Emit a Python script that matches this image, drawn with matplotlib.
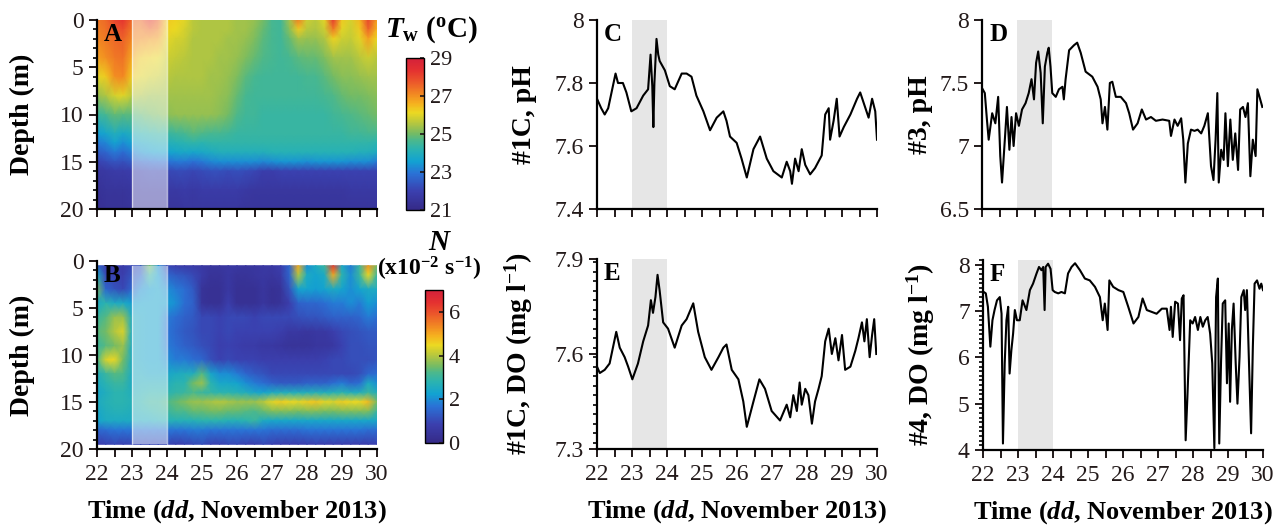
import numpy as np
import matplotlib.pyplot as plt
from matplotlib.colors import LinearSegmentedColormap
from matplotlib.ticker import MultipleLocator

plt.rcParams['font.family'] = ['Liberation Serif', 'DejaVu Serif']
plt.rcParams['mathtext.fontset'] = 'custom'
plt.rcParams['mathtext.rm'] = 'Liberation Serif:bold'
plt.rcParams['mathtext.it'] = 'Liberation Serif:italic:bold'
plt.rcParams['mathtext.bf'] = 'Liberation Serif:bold'

# ---- profile grids (time every 6 h) ----
days = np.arange(22, 30.001, 0.25)

# water temperature (deg C), rows = depth levels
tw_depth = [0, 1, 2, 4, 6, 8, 10, 12, 13, 14, 15, 16, 18, 20]
tw = np.array([
    [27.3, 27.5, 28.0, 28.3, 27.5, 27.5, 28.2, 27.6, 26.3, 26.2, 26.0, 25.6, 25.5, 25.5, 25.5, 25.5, 25.4, 25.4, 25.3, 25.0, 24.6, 24.5, 25.4, 27.2, 25.8, 25.6, 26.0, 28.2, 26.3, 25.9, 26.5, 28.0, 26.8],
    [27.2, 27.4, 27.8, 27.9, 27.3, 27.2, 27.5, 27.2, 26.2, 26.1, 25.9, 25.6, 25.5, 25.5, 25.5, 25.5, 25.4, 25.4, 25.2, 24.9, 24.6, 24.5, 25.2, 26.3, 25.6, 25.5, 25.8, 27.3, 26.0, 25.8, 26.3, 27.6, 26.5],
    [27.1, 27.3, 27.5, 27.6, 27.1, 27.0, 26.9, 26.8, 26.0, 25.9, 25.8, 25.5, 25.5, 25.5, 25.5, 25.4, 25.4, 25.3, 25.1, 24.8, 24.6, 24.5, 24.9, 25.4, 25.3, 25.3, 25.5, 26.2, 25.8, 25.7, 26.0, 26.8, 26.1],
    [26.8, 27.0, 27.3, 27.4, 26.7, 26.3, 26.2, 26.1, 25.8, 25.7, 25.6, 25.5, 25.5, 25.5, 25.4, 25.4, 25.3, 25.1, 24.9, 24.7, 24.6, 24.5, 24.6, 24.8, 24.9, 24.9, 25.1, 25.4, 25.4, 25.4, 25.6, 25.8, 25.6],
    [26.0, 26.3, 27.0, 27.1, 26.3, 26.0, 25.9, 25.8, 25.6, 25.5, 25.5, 25.5, 25.5, 25.4, 25.4, 25.3, 25.1, 24.8, 24.6, 24.5, 24.5, 24.5, 24.5, 24.5, 24.6, 24.6, 24.8, 25.0, 25.2, 25.2, 25.3, 25.4, 25.4],
    [25.3, 25.5, 25.9, 26.0, 25.6, 25.5, 25.4, 25.4, 25.4, 25.4, 25.4, 25.4, 25.4, 25.4, 25.3, 25.2, 24.9, 24.6, 24.5, 24.5, 24.5, 24.5, 24.5, 24.5, 24.5, 24.5, 24.6, 24.7, 24.9, 25.0, 25.0, 25.1, 25.2],
    [24.4, 24.6, 24.9, 24.8, 24.8, 24.9, 25.0, 25.1, 25.2, 25.3, 25.3, 25.3, 25.3, 25.3, 25.2, 25.0, 24.7, 24.5, 24.5, 24.4, 24.4, 24.4, 24.4, 24.4, 24.4, 24.4, 24.4, 24.5, 24.6, 24.7, 24.8, 24.9, 25.0],
    [23.5, 23.7, 24.0, 23.8, 24.0, 24.2, 24.3, 24.4, 24.4, 24.5, 24.6, 24.8, 24.7, 24.6, 24.6, 24.5, 24.4, 24.4, 24.4, 24.4, 24.4, 24.4, 24.4, 24.4, 24.4, 24.4, 24.4, 24.4, 24.4, 24.5, 24.5, 24.6, 24.6],
    [23.0, 23.2, 23.6, 23.3, 23.6, 23.8, 23.9, 24.0, 24.0, 24.1, 24.2, 24.3, 24.2, 24.3, 24.3, 24.3, 24.3, 24.3, 24.3, 24.3, 24.3, 24.3, 24.3, 24.3, 24.3, 24.3, 24.3, 24.3, 24.3, 24.3, 24.3, 24.3, 24.2],
    [22.5, 22.7, 23.0, 22.8, 23.1, 23.4, 23.5, 23.6, 23.6, 23.7, 23.8, 23.7, 23.8, 23.9, 24.0, 24.0, 24.0, 24.0, 24.0, 24.0, 24.1, 24.1, 24.1, 24.1, 24.1, 24.1, 24.1, 24.1, 24.1, 24.1, 24.0, 24.0, 23.9],
    [22.0, 22.2, 22.4, 22.3, 22.5, 22.7, 22.8, 22.9, 22.9, 23.0, 23.0, 22.9, 23.0, 23.2, 23.3, 23.3, 23.3, 23.3, 23.3, 23.2, 23.3, 23.4, 23.4, 23.4, 23.3, 23.4, 23.4, 23.4, 23.4, 23.3, 23.3, 23.3, 23.0],
    [21.6, 21.7, 21.8, 21.8, 21.9, 22.0, 22.1, 22.1, 22.1, 22.2, 22.2, 22.1, 22.2, 22.3, 22.3, 22.2, 22.3, 22.2, 22.1, 21.9, 21.9, 22.0, 22.0, 22.0, 22.0, 22.0, 22.0, 22.0, 22.0, 22.0, 22.0, 22.0, 22.0],
    [21.4, 21.5, 21.5, 21.5, 21.6, 21.7, 21.7, 21.7, 21.7, 21.7, 21.8, 21.7, 21.8, 21.8, 21.8, 21.8, 21.8, 21.7, 21.6, 21.6, 21.6, 21.6, 21.6, 21.6, 21.6, 21.6, 21.6, 21.6, 21.6, 21.7, 21.7, 21.7, 21.7],
    [21.3, 21.4, 21.4, 21.4, 21.5, 21.5, 21.5, 21.5, 21.5, 21.5, 21.6, 21.6, 21.6, 21.6, 21.6, 21.6, 21.6, 21.5, 21.5, 21.5, 21.5, 21.5, 21.5, 21.5, 21.5, 21.5, 21.5, 21.5, 21.5, 21.5, 21.5, 21.5, 21.5],
])

# buoyancy frequency N (x1e-2 s-1)
n_depth = [0.5, 1.5, 3, 4.5, 6, 7.5, 9, 10.5, 12, 13, 14, 15, 16, 17, 18, 19.5]
nfreq = np.array([
    [1.5, 0.8, 0.8, 0.7, 1.0, 1.2, 3.5, 2.0, 1.0, 0.8, 0.7, 0.7, 0.6, 0.5, 0.5, 0.6, 0.6, 0.5, 0.5, 0.6, 0.6, 0.8, 1.5, 5.0, 2.0, 2.5, 3.0, 6.3, 2.5, 1.8, 3.0, 5.2, 3.5],
    [2.5, 1.0, 0.9, 0.8, 1.2, 1.5, 3.0, 2.2, 1.5, 1.3, 1.2, 1.0, 0.7, 0.4, 0.4, 0.6, 0.4, 0.4, 0.5, 0.6, 0.5, 0.7, 1.5, 4.0, 2.5, 2.3, 2.5, 5.0, 2.8, 2.0, 3.0, 4.5, 3.0],
    [3.5, 1.5, 1.2, 1.0, 1.5, 2.0, 2.2, 2.3, 2.0, 1.8, 1.6, 1.3, 0.4, 0.3, 0.3, 0.6, 0.3, 0.3, 0.3, 0.5, 0.3, 0.4, 1.2, 2.3, 2.3, 2.2, 2.3, 2.5, 2.3, 2.0, 2.3, 2.5, 2.5],
    [2.5, 2.8, 2.5, 2.5, 2.2, 2.3, 2.3, 2.3, 2.2, 2.0, 1.6, 1.4, 0.4, 0.3, 0.3, 0.8, 0.3, 0.3, 0.3, 0.5, 0.3, 0.4, 0.8, 1.4, 1.5, 1.5, 1.6, 1.8, 1.8, 2.0, 1.8, 2.2, 2.0],
    [3.0, 3.3, 3.8, 3.8, 2.5, 2.4, 2.3, 2.3, 1.8, 1.6, 1.4, 1.3, 1.0, 1.0, 0.9, 1.0, 1.0, 1.0, 0.9, 1.0, 1.0, 1.0, 1.0, 1.1, 1.2, 1.2, 1.3, 1.4, 1.4, 1.4, 1.5, 1.8, 1.6],
    [3.3, 3.5, 4.0, 4.3, 2.5, 2.4, 2.3, 2.3, 1.7, 1.5, 1.3, 1.2, 1.0, 1.0, 0.9, 1.0, 0.9, 0.9, 0.9, 0.9, 0.9, 0.8, 0.6, 0.6, 0.5, 0.6, 0.6, 0.8, 1.0, 1.1, 1.2, 1.3, 1.3],
    [3.0, 3.3, 3.5, 3.8, 2.5, 2.4, 2.3, 2.3, 1.8, 1.6, 1.4, 1.3, 1.1, 1.0, 0.8, 0.9, 0.8, 0.7, 0.7, 0.6, 0.6, 0.5, 0.4, 0.4, 0.4, 0.5, 0.5, 0.6, 0.9, 1.1, 1.1, 1.2, 1.2],
    [3.2, 4.3, 4.5, 3.5, 2.5, 2.4, 2.3, 2.3, 2.0, 1.8, 1.8, 1.6, 1.5, 1.1, 0.9, 1.0, 0.9, 0.9, 0.9, 0.8, 0.8, 0.8, 0.8, 0.8, 0.8, 0.8, 0.9, 1.0, 1.0, 1.1, 1.1, 1.1, 1.2],
    [2.6, 3.0, 3.3, 3.2, 2.5, 2.5, 2.4, 2.4, 2.4, 2.5, 2.6, 2.6, 3.3, 2.4, 2.0, 2.0, 1.8, 1.5, 1.3, 1.2, 1.0, 1.0, 1.0, 1.0, 1.0, 1.0, 1.0, 1.0, 1.0, 1.0, 1.1, 1.5, 1.6],
    [2.5, 2.8, 3.0, 3.0, 2.5, 2.6, 2.6, 2.6, 2.6, 2.8, 2.8, 3.5, 3.8, 2.8, 2.4, 2.4, 2.3, 2.0, 1.8, 1.6, 1.4, 1.3, 1.3, 1.3, 1.4, 1.4, 1.4, 1.6, 1.8, 1.5, 1.6, 2.5, 2.0],
    [2.4, 2.6, 2.8, 2.8, 2.6, 2.7, 2.8, 2.8, 2.8, 2.9, 3.0, 3.2, 3.0, 2.9, 2.8, 2.8, 2.7, 2.6, 2.4, 2.3, 2.5, 2.6, 2.6, 2.6, 2.6, 2.7, 2.6, 2.7, 2.8, 2.6, 2.6, 3.0, 2.6],
    [2.5, 2.7, 2.8, 2.8, 2.7, 2.8, 3.0, 3.0, 3.2, 3.4, 3.6, 3.8, 3.8, 3.9, 4.0, 3.9, 3.8, 3.8, 3.8, 4.0, 4.4, 4.6, 4.5, 4.4, 4.6, 4.7, 4.4, 4.3, 4.6, 4.5, 4.5, 4.8, 3.5],
    [2.4, 2.6, 2.7, 2.7, 2.6, 2.7, 2.8, 2.9, 3.0, 3.2, 3.2, 3.4, 3.4, 3.5, 3.5, 3.4, 3.4, 3.3, 3.2, 3.4, 3.6, 3.6, 3.6, 3.5, 3.6, 3.6, 3.5, 3.5, 3.6, 3.6, 3.6, 3.6, 3.0],
    [2.3, 2.5, 2.5, 2.5, 2.5, 2.5, 2.5, 2.6, 2.7, 2.7, 2.7, 2.7, 2.8, 2.8, 2.8, 2.7, 2.7, 2.8, 3.0, 2.5, 2.4, 2.4, 2.4, 2.4, 2.4, 2.4, 2.4, 2.4, 2.4, 2.4, 2.4, 2.4, 2.4],
    [1.5, 1.6, 1.7, 1.7, 1.7, 1.7, 1.7, 1.7, 1.7, 1.7, 1.7, 1.8, 1.8, 1.7, 1.7, 1.7, 1.7, 1.7, 1.7, 1.7, 1.6, 1.6, 1.6, 1.6, 1.7, 1.7, 1.7, 1.7, 1.7, 1.7, 1.7, 1.6, 1.6],
    [0.8, 0.9, 1.0, 0.9, 1.0, 1.0, 1.0, 1.0, 1.0, 0.8, 0.9, 1.0, 1.1, 0.9, 0.9, 1.0, 1.0, 0.9, 0.8, 1.0, 0.9, 0.8, 0.8, 0.8, 0.8, 0.9, 0.8, 0.8, 0.8, 0.8, 0.8, 0.8, 0.9],
])

# ---- station time series ----
c_day = [22.00, 22.12, 22.22, 22.32, 22.53, 22.60, 22.74, 22.84, 22.98, 23.13, 23.32, 23.46, 23.53, 23.58, 23.61,
         23.64, 23.70, 23.75, 23.79, 23.94, 24.08, 24.22, 24.42, 24.56, 24.70, 24.84, 25.04, 25.23, 25.42, 25.61,
         25.70, 25.80, 25.99, 26.13, 26.28, 26.47, 26.66, 26.85, 27.04, 27.28, 27.42, 27.52, 27.57, 27.66, 27.76,
         27.85, 27.95, 28.09, 28.23, 28.42, 28.52, 28.62, 28.66, 28.76, 28.85, 28.93, 29.05, 29.24, 29.43, 29.52,
         29.67, 29.76, 29.86, 29.95, 30.00]
c_ph = [7.75, 7.72, 7.70, 7.72, 7.83, 7.80, 7.80, 7.77, 7.71, 7.72, 7.76, 7.78, 7.89, 7.79, 7.66,
        7.80, 7.94, 7.89, 7.87, 7.84, 7.79, 7.78, 7.83, 7.83, 7.82, 7.76, 7.71, 7.65, 7.69, 7.71,
        7.68, 7.63, 7.61, 7.56, 7.50, 7.59, 7.63, 7.56, 7.52, 7.50, 7.55, 7.52, 7.48, 7.56, 7.52,
        7.59, 7.54, 7.51, 7.53, 7.57, 7.70, 7.72, 7.62, 7.68, 7.75, 7.63, 7.66, 7.70, 7.75, 7.77,
        7.72, 7.69, 7.75, 7.71, 7.62]

d_day = [22.02, 22.08, 22.14, 22.19, 22.29, 22.38, 22.46, 22.52, 22.57, 22.65, 22.71, 22.78, 22.84, 22.90, 22.97,
         23.05, 23.14, 23.24, 23.33, 23.41, 23.48, 23.54, 23.60, 23.67, 23.73, 23.79, 23.86, 23.90, 23.95, 24.00,
         24.10, 24.19, 24.29, 24.33, 24.38, 24.48, 24.62, 24.71, 24.81, 24.95, 25.14, 25.29, 25.38, 25.43, 25.50,
         25.57, 25.64, 25.71, 25.81, 25.95, 26.10, 26.19, 26.30, 26.43, 26.55, 26.67, 26.81, 26.95, 27.14, 27.33,
         27.38, 27.48, 27.57, 27.67, 27.73, 27.79, 27.86, 27.95, 28.05, 28.14, 28.24, 28.33, 28.43, 28.52, 28.59,
         28.65, 28.70, 28.74, 28.81, 28.88, 28.93, 29.00, 29.07, 29.14, 29.21, 29.29, 29.35, 29.43, 29.50, 29.57,
         29.64, 29.71, 29.79, 29.84, 29.90, 29.98]
d_ph = [7.45, 7.42, 7.21, 7.05, 7.26, 7.18, 7.39, 6.92, 6.71, 7.05, 7.31, 6.97, 7.23, 7.00, 7.26,
        7.16, 7.29, 7.34, 7.42, 7.53, 7.37, 7.66, 7.75, 7.58, 7.18, 7.63, 7.74, 7.78, 7.63, 7.42,
        7.39, 7.45, 7.47, 7.37, 7.53, 7.76, 7.80, 7.82, 7.74, 7.59, 7.55, 7.47, 7.37, 7.18, 7.31,
        7.13, 7.50, 7.51, 7.39, 7.39, 7.34, 7.26, 7.13, 7.18, 7.29, 7.21, 7.23, 7.20, 7.21, 7.20,
        7.08, 7.21, 7.16, 7.22, 7.05, 6.71, 7.02, 7.13, 7.12, 7.13, 7.10, 7.16, 7.26, 6.84, 6.73,
        7.05, 7.42, 6.71, 6.97, 6.89, 7.26, 6.84, 7.21, 6.89, 7.10, 6.81, 7.29, 7.31, 7.23, 7.34,
        6.76, 7.05, 6.92, 7.45, 7.39, 7.31]

e_day = [22.00, 22.08, 22.22, 22.36, 22.55, 22.65, 22.79, 22.89, 23.01, 23.17, 23.32, 23.46, 23.54, 23.60, 23.67,
         23.73, 23.79, 23.89, 24.03, 24.22, 24.42, 24.56, 24.75, 24.89, 25.08, 25.27, 25.47, 25.61, 25.70, 25.85,
         26.04, 26.18, 26.28, 26.47, 26.64, 26.80, 26.99, 27.23, 27.42, 27.52, 27.61, 27.71, 27.79, 27.85, 27.95,
         28.04, 28.14, 28.23, 28.33, 28.42, 28.52, 28.62, 28.71, 28.81, 28.90, 29.00, 29.09, 29.24, 29.38, 29.47,
         29.57, 29.64, 29.71, 29.79, 29.86, 29.92, 29.98]
e_do = [7.56, 7.54, 7.55, 7.57, 7.67, 7.62, 7.59, 7.56, 7.52, 7.57, 7.64, 7.69, 7.77, 7.73, 7.78,
        7.85, 7.80, 7.70, 7.68, 7.62, 7.69, 7.71, 7.76, 7.67, 7.59, 7.55, 7.59, 7.62, 7.63, 7.55,
        7.52, 7.45, 7.37, 7.45, 7.52, 7.49, 7.42, 7.39, 7.44, 7.40, 7.47, 7.42, 7.51, 7.44, 7.49,
        7.47, 7.38, 7.45, 7.49, 7.53, 7.64, 7.68, 7.60, 7.65, 7.58, 7.66, 7.55, 7.56, 7.61, 7.65,
        7.70, 7.64, 7.71, 7.59, 7.66, 7.71, 7.60]

f_day = [22.02, 22.08, 22.14, 22.21, 22.27, 22.33, 22.40, 22.48, 22.53, 22.57, 22.62, 22.67, 22.72, 22.76, 22.81,
         22.86, 22.91, 22.97, 23.05, 23.13, 23.24, 23.34, 23.43, 23.53, 23.60, 23.67, 23.72, 23.76, 23.79, 23.86,
         23.93, 23.99, 24.05, 24.15, 24.24, 24.34, 24.43, 24.53, 24.63, 24.77, 24.91, 25.05, 25.20, 25.34, 25.42,
         25.48, 25.56, 25.61, 25.72, 25.87, 26.01, 26.15, 26.30, 26.44, 26.56, 26.68, 26.82, 26.96, 27.11, 27.25,
         27.33, 27.37, 27.42, 27.49, 27.57, 27.63, 27.68, 27.73, 27.79, 27.84, 27.92, 27.99, 28.06, 28.14, 28.21,
         28.28, 28.35, 28.42, 28.49, 28.55, 28.61, 28.66, 28.71, 28.75, 28.80, 28.85, 28.92, 28.97, 29.02, 29.06,
         29.11, 29.16, 29.22, 29.27, 29.33, 29.38, 29.45, 29.49, 29.54, 29.60, 29.66, 29.71, 29.76, 29.83, 29.90,
         29.95, 30.00]
f_do = [7.41, 7.38, 7.09, 6.23, 6.80, 7.02, 7.23, 7.30, 6.94, 4.14, 5.87, 6.80, 7.09, 5.65, 6.15,
        6.51, 7.02, 6.80, 6.80, 7.23, 7.02, 7.45, 7.59, 7.81, 7.95, 7.88, 7.95, 7.02, 7.95, 8.02,
        7.91, 7.45, 7.41, 7.38, 7.41, 7.38, 7.81, 7.95, 8.03, 7.88, 7.70, 7.66, 7.52, 7.30, 6.80,
        7.16, 6.59, 7.66, 7.52, 7.45, 7.41, 7.09, 6.73, 6.87, 7.27, 7.02, 6.98, 6.94, 7.05, 7.05,
        6.59, 7.09, 6.44, 7.20, 7.16, 6.37, 7.27, 7.34, 4.21, 5.15, 6.80, 6.73, 6.87, 6.59, 6.87,
        6.66, 6.80, 6.87, 6.51, 5.87, 4.04, 7.30, 7.70, 4.14, 5.87, 7.16, 7.23, 5.44, 6.73, 5.04,
        6.59, 7.16, 5.87, 5.00, 6.01, 7.30, 7.45, 7.02, 7.45, 5.87, 4.36, 6.23, 7.59, 7.66, 7.48,
        7.59, 7.45]

# colour scale: purple - blue - cyan - green - yellow - orange - red
cmap = LinearSegmentedColormap.from_list('tw', [
    (0.00, '#352a87'), (0.12, '#3b3fae'), (0.24, '#2a72d6'), (0.32, '#12a2d2'),
    (0.40, '#2bb3b0'), (0.46, '#4cb88c'), (0.50, '#72bb66'), (0.55, '#a2c24a'),
    (0.59, '#c4cb36'), (0.64, '#ecd922'), (0.70, '#f5b21f'), (0.76, '#f28a22'),
    (0.84, '#ec5a2a'), (0.92, '#e43130'), (1.00, '#d4213a')])

TXT = '#231a1a'
W, H = 1282, 531
fig = plt.figure(figsize=(W / 100, H / 100), dpi=100)


def px_axes(left, top, right, bottom):
    return fig.add_axes([left / W, 1 - bottom / H, (right - left) / W, (bottom - top) / H])


def style(ax, xlabels):
    for s in ('top', 'right'):
        ax.spines[s].set_visible(False)
    for s in ('left', 'bottom'):
        ax.spines[s].set_linewidth(1.6)
    ax.set_xlim(22, 30)
    ax.xaxis.set_major_locator(MultipleLocator(1))
    ax.xaxis.set_minor_locator(MultipleLocator(0.5))
    ax.tick_params(axis='x', which='both', direction='out', length=5.5, width=1.4,
                   labelsize=17, pad=5, colors=TXT)
    ax.tick_params(axis='y', which='major', direction='out', length=5.5, width=1.4,
                   labelsize=17, pad=4, colors=TXT)
    ax.tick_params(axis='y', which='minor', direction='out', length=3, width=1.2)
    if not xlabels:
        ax.tick_params(axis='x', labelbottom=False)
    else:
        ax.set_xlabel(r'Time ($dd$, November 2013)', fontsize=19, fontweight='bold')
        ax.xaxis.set_label_coords(0.5, -0.26)


def letter(ax, s):
    ax.text(0.025, 0.985, s, transform=ax.transAxes, ha='left', va='top',
            fontsize=18, fontweight='bold', zorder=5)


# ---- A: temperature section ----
axA = px_axes(97, 20, 377, 209)
mA = axA.pcolormesh(days, tw_depth, tw, shading='gouraud', cmap=cmap, vmin=21, vmax=29)
axA.axvspan(23, 24, color='white', alpha=0.5, lw=0)
for x in (23, 24):
    axA.axvline(x, color='white', lw=1.0, alpha=0.6)
axA.set_ylim(20, 0)
axA.yaxis.set_major_locator(MultipleLocator(5))
axA.yaxis.set_minor_locator(MultipleLocator(1))
style(axA, False)
axA.set_ylabel('Depth (m)', fontsize=20, fontweight='bold')
axA.yaxis.set_label_coords(-0.22, 0.5)
letter(axA, 'A')

caxA = px_axes(406, 58, 424, 210)
cbA = fig.colorbar(mA, cax=caxA, ticks=[21, 23, 25, 27, 29])
cbA.outline.set_linewidth(1.0)
caxA.tick_params(direction='in', length=3, width=1.2, labelsize=16, pad=4, colors=TXT)
fig.text(431 / W, 1 - 30 / H, r'$T_{\rm w}$ ($^{\rm o}$C)', ha='center', va='center',
         fontsize=21, fontweight='bold')

# ---- B: buoyancy frequency section ----
axB = px_axes(97, 261, 377, 449)
mB = axB.pcolormesh(days, n_depth, nfreq, shading='gouraud', cmap=cmap, vmin=0, vmax=7)
axB.axvspan(23, 24, ymin=0.025, ymax=0.975, color='white', alpha=0.5, lw=0)
for x in (23, 24):
    axB.axvline(x, ymin=0.025, ymax=0.975, color='white', lw=1.0, alpha=0.6)
axB.set_ylim(20, 0)
axB.yaxis.set_major_locator(MultipleLocator(5))
axB.yaxis.set_minor_locator(MultipleLocator(1))
style(axB, True)
axB.set_ylabel('Depth (m)', fontsize=20, fontweight='bold')
axB.yaxis.set_label_coords(-0.22, 0.5)
letter(axB, 'B')

caxB = px_axes(425, 290, 443, 443)
cbB = fig.colorbar(mB, cax=caxB, ticks=[0, 2, 4, 6])
cbB.outline.set_linewidth(1.0)
caxB.tick_params(direction='in', length=3, width=1.2, labelsize=16, pad=4, colors=TXT)
fig.text(440 / W, 1 - 243 / H, r'$N$', ha='center', va='center', fontsize=21)
fig.text(429 / W, 1 - 269 / H, r'(x10$^{-2}$ s$^{-1}$)', ha='center', va='center',
         fontsize=17, fontweight='bold')


# ---- C-F: station records ----
def series(rect, x, y, ylim, yticks, minor, ylabel, lab_x, tag, xlabels):
    ax = px_axes(*rect)
    ax.axvspan(23, 24, color='#e6e6e6', lw=0, zorder=0)
    ax.plot(x, y, color='black', lw=1.5, zorder=2)
    ax.set_ylim(*ylim)
    ax.set_yticks(yticks, [f'{v:g}' for v in yticks])
    if minor:
        ax.yaxis.set_minor_locator(MultipleLocator(minor))
    style(ax, xlabels)
    ax.set_ylabel(ylabel, fontsize=20, fontweight='bold')
    ax.yaxis.set_label_coords(lab_x, 0.5)
    letter(ax, tag)
    return ax


axC = series((597, 20, 877, 209), c_day, c_ph, (7.4, 8.0), [7.4, 7.6, 7.8, 8.0], None,
             '#1C, pH', -0.215, 'C', False)
axE = series((597, 259, 877, 449), e_day, e_do, (7.3, 7.9), [7.3, 7.6, 7.9], 0.03,
             r'#1C, DO (mg l$^{-1}$)', -0.22, 'E', True)
axD = series((982, 20, 1263, 209), d_day, d_ph, (6.5, 8.0), [6.5, 7.0, 7.5, 8.0], None,
             '#3, pH', -0.175, 'D', False)
axF = series((983, 260, 1263, 450), f_day, f_do, (4, 8.1), [4, 5, 6, 7, 8], 0.1,
             r'#4, DO (mg l$^{-1}$)', -0.165, 'F', True)

fig.savefig('out.png', dpi=100)
